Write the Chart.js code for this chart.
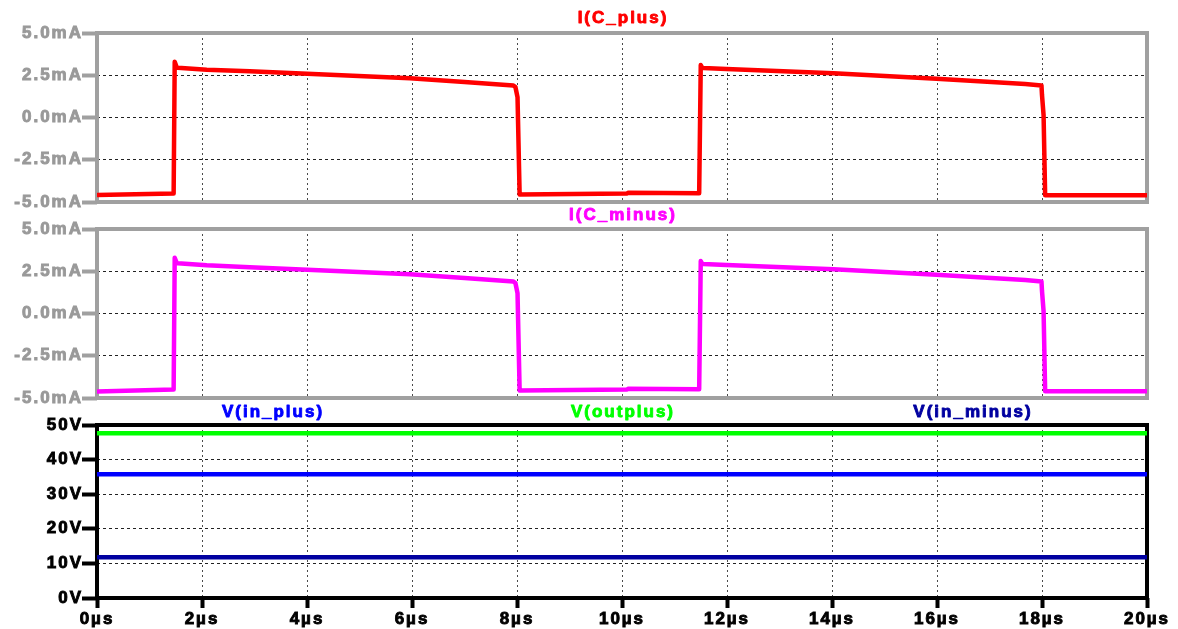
<!DOCTYPE html>
<html>
<head>
<meta charset="utf-8">
<script src="https://cdn.jsdelivr.net/npm/chart.js@4/dist/chart.umd.min.js"></script>
<style>
  html, body { margin: 0; padding: 0; background: #ffffff; }
  #wrap { position: relative; width: 1178px; height: 629px; overflow: hidden; }
  #wrap canvas { position: absolute; left: 0; top: 0; }
</style>
</head>
<body>
<div id="wrap">
  <canvas id="pPlus" width="1178" height="629"></canvas>
  <canvas id="pMinus" width="1178" height="629"></canvas>
  <canvas id="pVolt" width="1178" height="629"></canvas>
</div>
<script>
// ---- transient data: time in µs, currents in mA, voltages in V ----
const T_C_PLUS = [0, 1.46, 1.48, 1.52, 1.54, 2.09, 2.91, 4.44, 5.96, 7.0, 7.93, 7.97, 8.01, 8.05, 10.1, 10.12, 11.47, 11.5, 11.53, 11.55, 11.99, 14.03, 15.99, 17.68, 17.99, 18.0, 18.03, 18.06, 20];
const I_C_PLUS = [-4.59, -4.49, 3.3, 2.96, 2.94, 2.83, 2.73, 2.53, 2.32, 2.1, 1.9, 1.8, 1.2, -4.55, -4.49, -4.45, -4.48, 3.1, 2.94, 2.93, 2.87, 2.62, 2.3, 1.98, 1.9, 1.33, 0.15, -4.6, -4.6];

const T_C_MINUS = [0, 1.46, 1.48, 1.52, 1.54, 2.09, 2.91, 4.44, 5.96, 7.0, 7.93, 7.97, 8.01, 8.05, 10.1, 10.12, 11.47, 11.5, 11.53, 11.55, 11.99, 14.03, 15.99, 17.68, 17.99, 18.0, 18.03, 18.06, 20];
const I_C_MINUS = [-4.62, -4.5, 3.3, 2.98, 2.97, 2.85, 2.74, 2.53, 2.32, 2.1, 1.9, 1.8, 1.2, -4.55, -4.49, -4.45, -4.48, 3.1, 2.94, 2.93, 2.87, 2.62, 2.3, 1.98, 1.9, 1.33, 0.15, -4.6, -4.6];

const T_V = [0, 20];
const V_IN_PLUS = [35.8, 35.8];
const V_OUTPLUS = [47.6, 47.6];
const V_IN_MINUS = [11.8, 11.8];

const TIME_TICKS = { min: 0, max: 20, step: 2 };
const CURRENT_TICKS = { min: -5, max: 5, step: 2.5 };
const VOLT_TICKS = { min: 0, max: 50, step: 10 };

// ---- styling helpers ----
const FONT_FAMILY = "'Liberation Sans', Arial, sans-serif";
const FONT_SIZE = 17;
const SPACING = '2px';
const TEXT_STROKE = 0.9;
Chart.defaults.font = { family: FONT_FAMILY, size: FONT_SIZE, weight: 'bold' };

const toPoints = (ts, vs) => ts.map((t, i) => ({ x: t, y: vs[i] }));

// wide, spaced glyphs like the plotting tool's label font
const spacedText = {
  id: 'spacedText',
  beforeDraw(chart) { chart.ctx.letterSpacing = SPACING; },
  afterDraw(chart) { chart.ctx.letterSpacing = '0px'; }
};

// boxed plot frame drawn under the traces
const framePlugin = {
  id: 'frame',
  beforeDatasetsDraw(chart, args, opts) {
    const { ctx, chartArea: a } = chart;
    ctx.save();
    ctx.setLineDash([]);
    ctx.lineWidth = opts.width;
    ctx.strokeStyle = opts.color;
    ctx.strokeRect(a.left, a.top, a.right - a.left, a.bottom - a.top);
    ctx.restore();
  }
};

// trace names above each pane, spread across its width
const captionPlugin = {
  id: 'captions',
  afterDraw(chart, args, opts) {
    const { ctx, chartArea: a } = chart;
    ctx.save();
    ctx.letterSpacing = SPACING;
    ctx.font = `bold ${FONT_SIZE}px ${FONT_FAMILY}`;
    ctx.textAlign = 'center';
    ctx.textBaseline = 'middle';
    ctx.lineWidth = TEXT_STROKE;
    ctx.lineJoin = 'round';
    opts.items.forEach(it => {
      const x = a.left + it.frac * (a.right - a.left) + 1;
      ctx.fillStyle = it.color;
      ctx.strokeStyle = it.color;
      ctx.strokeText(it.text, x, opts.y);
      ctx.fillText(it.text, x, opts.y);
    });
    ctx.restore();
  }
};

function makePane(id, { datasets, yTicks, yFmt, axisColor, labelColor, top, bottom, xHeight, showTime, captions, captionY }) {
  return new Chart(document.getElementById(id), {
    type: 'line',
    data: { datasets },
    plugins: [spacedText, framePlugin, captionPlugin],
    options: {
      responsive: false,
      animation: false,
      events: [],
      layout: { padding: { top: top, bottom: bottom, left: 0, right: 31 } },
      elements: {
        point: { radius: 0 },
        line: { tension: 0, borderWidth: 4.5, borderCapStyle: 'butt', borderJoinStyle: 'round' }
      },
      plugins: {
        legend: { display: false },
        tooltip: { enabled: false },
        title: { display: false },
        frame: { color: axisColor, width: 4 },
        captions: { items: captions, y: captionY }
      },
      scales: {
        x: {
          type: 'linear',
          min: TIME_TICKS.min,
          max: TIME_TICKS.max,
          afterFit(s) { s.height = xHeight; },
          border: { display: false, dash: [2, 3] },
          grid: {
            color: '#4a4a4a',
            lineWidth: 1,
            drawTicks: showTime,
            tickLength: 10,
            tickWidth: 4,
            tickColor: axisColor
          },
          ticks: {
            display: showTime,
            stepSize: TIME_TICKS.step,
            autoSkip: false,
            maxRotation: 0,
            padding: 1,
            color: labelColor,
            textStrokeColor: labelColor,
            textStrokeWidth: TEXT_STROKE,
            callback: v => v + 'µs'
          }
        },
        y: {
          min: yTicks.min,
          max: yTicks.max,
          afterFit(s) { s.width = 97; },
          border: { display: false, dash: [3, 3] },
          grid: {
            color: '#222222',
            lineWidth: 1,
            tickLength: 15,
            tickWidth: 4,
            tickColor: axisColor
          },
          ticks: {
            stepSize: yTicks.step,
            padding: -1,
            color: labelColor,
            textStrokeColor: labelColor,
            textStrokeWidth: TEXT_STROKE,
            callback: yFmt
          }
        }
      }
    }
  });
}

const mA = v => v.toFixed(1) + 'mA';

makePane('pPlus', {
  datasets: [{ label: 'I(C_plus)', data: toPoints(T_C_PLUS, I_C_PLUS), borderColor: '#ff0000' }],
  yTicks: CURRENT_TICKS, yFmt: mA,
  axisColor: '#a0a0a0', labelColor: '#999999',
  top: 33, bottom: 629 - 202, xHeight: 0, showTime: false,
  captions: [{ text: 'I(C_plus)', color: '#ff0000', frac: 0.5 }], captionY: 18
});

makePane('pMinus', {
  datasets: [{ label: 'I(C_minus)', data: toPoints(T_C_MINUS, I_C_MINUS), borderColor: '#ff00ff' }],
  yTicks: CURRENT_TICKS, yFmt: mA,
  axisColor: '#a0a0a0', labelColor: '#999999',
  top: 229, bottom: 629 - 398, xHeight: 0, showTime: false,
  captions: [{ text: 'I(C_minus)', color: '#ff00ff', frac: 0.5 }], captionY: 215
});

makePane('pVolt', {
  datasets: [
    { label: 'V(in_plus)', data: toPoints(T_V, V_IN_PLUS), borderColor: '#0000ff' },
    { label: 'V(outplus)', data: toPoints(T_V, V_OUTPLUS), borderColor: '#00ff00' },
    { label: 'V(in_minus)', data: toPoints(T_V, V_IN_MINUS), borderColor: '#0000a0' }
  ],
  yTicks: VOLT_TICKS, yFmt: v => v + 'V',
  axisColor: '#000000', labelColor: '#000000',
  top: 425, bottom: 0, xHeight: 31, showTime: true,
  captions: [
    { text: 'V(in_plus)', color: '#0000ff', frac: 1 / 6 },
    { text: 'V(outplus)', color: '#00ff00', frac: 0.5 },
    { text: 'V(in_minus)', color: '#0000a0', frac: 5 / 6 }
  ],
  captionY: 412
});
</script>
</body>
</html>
